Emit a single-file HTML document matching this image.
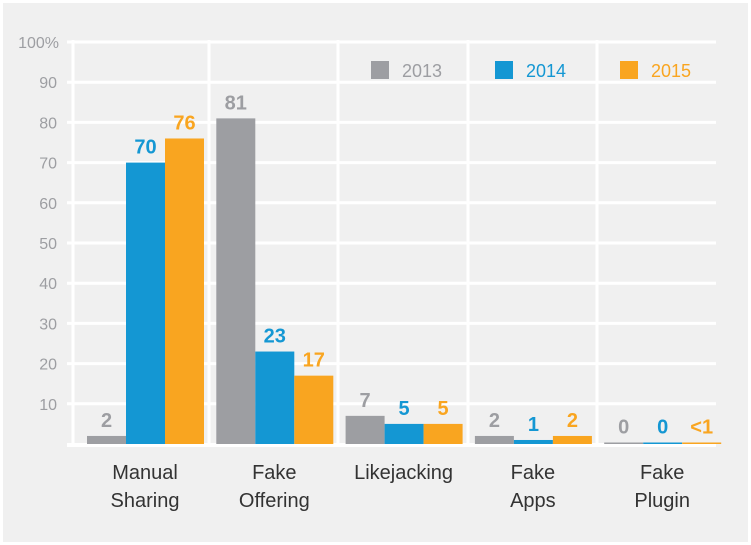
<!DOCTYPE html>
<html><head><meta charset="utf-8"><style>
body{margin:0;background:#fff;}
#wrap{position:absolute;left:3px;top:3px;width:745px;height:539px;background:#f0f0f0;}
svg{position:absolute;left:0;top:0;}
text{font-family:"Liberation Sans",sans-serif;}
</style></head><body>
<div id="wrap"></div>
<svg id="c" width="751" height="545"></svg>
<script>
const categories=[["Manual","Sharing"],["Fake","Offering"],["Likejacking"],["Fake","Apps"],["Fake","Plugin"]];
const series=["2013","2014","2015"];
const v2013=[2,81,7,2,0];
const v2014=[70,23,5,1,0];
const v2015=[76,17,5,2,0.3];
const labels2013=["2","81","7","2","0"];
const labels2014=["70","23","5","1","0"];
const labels2015=["76","17","5","2","<1"];
const yTicks=[10,20,30,40,50,60,70,80,90,100];
const colors=["#9d9ea2","#1497d3","#f9a520"];
const svg=document.getElementById('c');
const NS="http://www.w3.org/2000/svg";
const y0=444,y100=42;
const y=v=>y0-(y0-y100)*v/100;
const gx=i=>80+i*129.3;
function mk(t,a,txt){const e=document.createElementNS(NS,t);for(const k in a)e.setAttribute(k,a[k]);if(txt!==undefined)e.textContent=txt;svg.appendChild(e);return e;}
yTicks.forEach(t=>{
 const l=mk('line',{x1:67,x2:716,y1:y(t),y2:y(t),stroke:'#fff','stroke-width':3});
 
 
 const tx=mk('text',{x:t==100?59:57,y:y(t)+6,'text-anchor':'end','font-size':16,fill:'#9d9ea2'},t==100?'100%':String(t));
 
 
});
[73,209,338,468,597].forEach((x,i)=>{
 const l=mk('line',{x1:x,x2:x,y1:40,y2:446,stroke:'#fff','stroke-width':3});
 
 
});
const base=mk('line',{x1:67,x2:716,y1:445,y2:445,stroke:'#fff','stroke-width':4});


const vals=[v2013,v2014,v2015],labs=[labels2013,labels2014,labels2015];
categories.forEach((c,i)=>{
 vals.forEach((arr,s)=>{
  const x=gx(i)+7+s*39;
  const top=Math.min(y(arr[i]),y0-1.5);
  const r=mk('rect',{x:x,y:top,width:39,height:y0-top,fill:colors[s]});
  
  
  const t=mk('text',{x:x+19.5,y:top-9,'text-anchor':'middle','font-size':20,'font-weight':'bold',fill:colors[s]},labs[s][i]);
  
  
 });
 c.forEach((ln,k)=>{
  const t=mk('text',{x:gx(i)+65,y:479+k*28,'text-anchor':'middle','font-size':20,fill:'#333'},ln);
  
  
 });
});
[371,495,620].forEach((x,s)=>{
 const r=mk('rect',{x:x,y:61,width:18,height:18,fill:colors[s]});
 
 
 const t=mk('text',{x:x+31,y:77,'font-size':18,fill:colors[s]},series[s]);
 
 
});
</script>
</body></html>
